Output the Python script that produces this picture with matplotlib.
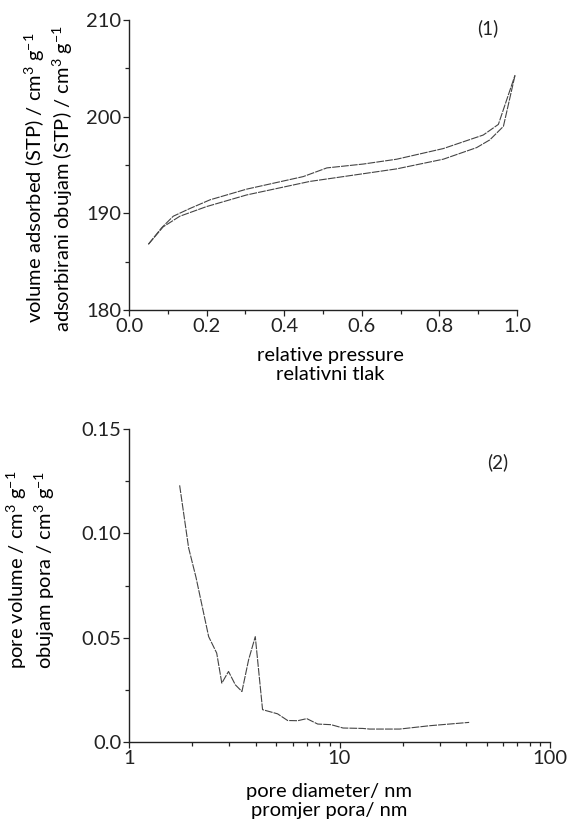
import numpy as np
import matplotlib
matplotlib.use('Agg')
import matplotlib.pyplot as plt
from matplotlib.ticker import MultipleLocator, LogLocator, FixedLocator, NullFormatter

plt.rcParams['font.family'] = ['Lato', 'DejaVu Sans']
plt.rcParams['mathtext.fontset'] = 'custom'
plt.rcParams['mathtext.rm'] = 'Lato'
plt.rcParams['mathtext.it'] = 'Lato:italic'
plt.rcParams['font.size'] = 14.5
plt.rcParams['text.color'] = '#222222'
plt.rcParams['xtick.color'] = '#222222'
plt.rcParams['ytick.color'] = '#222222'

# (1) 吸附／脫附等溫線
p_upper = [0.050, 0.084, 0.114, 0.157, 0.209, 0.303, 0.449, 0.510, 0.604, 0.690, 0.810, 0.913, 0.952, 0.995]
v_upper = [186.8, 188.5, 189.7, 190.5, 191.4, 192.5, 193.8, 194.7, 195.1, 195.6, 196.7, 198.1, 199.2, 204.3]
p_lower = [0.050, 0.088, 0.131, 0.200, 0.303, 0.466, 0.518, 0.690, 0.810, 0.896, 0.930, 0.965, 0.995]
v_lower = [186.8, 188.6, 189.7, 190.7, 191.9, 193.3, 193.6, 194.6, 195.6, 196.8, 197.6, 199.0, 204.3]

# (2) 孔徑分佈
d_pore = [1.74, 1.92, 2.08, 2.39, 2.61, 2.76, 2.97, 3.20, 3.44, 3.70, 3.98, 4.31, 5.08, 5.67,
          6.33, 6.99, 7.88, 9.12, 10.4, 12.9, 13.9, 19.3, 26.8, 41.3]
v_pore = [0.123, 0.093, 0.079, 0.0505, 0.0426, 0.0282, 0.0338, 0.0274, 0.0242, 0.0394, 0.0505,
          0.0155, 0.0135, 0.0103, 0.0102, 0.0112, 0.0086, 0.0083, 0.0067, 0.0065, 0.0062, 0.0062,
          0.0078, 0.0094]

line_kw = dict(color='#444444', linewidth=0.8, linestyle=(0, (7, 1.0)))

fig = plt.figure(figsize=(5.7, 8.22), dpi=100)
ax1 = fig.add_axes([129 / 570, 1 - 310 / 822, 388 / 570, 290 / 822])
ax2 = fig.add_axes([129 / 570, 1 - 742 / 822, 421 / 570, 313 / 822])

for ax in (ax1, ax2):
    for s in ('top', 'right'):
        ax.spines[s].set_visible(False)
    for s in ('left', 'bottom'):
        ax.spines[s].set_linewidth(1.0)
        ax.spines[s].set_color('#222222')
    ax.tick_params(which='major', direction='out', length=4, width=0.9, pad=1.5)
    ax.tick_params(which='minor', direction='out', length=3, width=0.9)

# 上圖
ax1.plot(p_upper, v_upper, **line_kw)
ax1.plot(p_lower, v_lower, **line_kw)
ax1.set_xlim(0, 1.0)
ax1.set_ylim(180, 210)
ax1.xaxis.set_minor_locator(MultipleLocator(0.1))
ax1.yaxis.set_major_locator(MultipleLocator(10))
ax1.yaxis.set_minor_locator(MultipleLocator(5))
ax1.set_xticks([0, 0.2, 0.4, 0.6, 0.8, 1.0])
ax1.set_xticklabels(['0.0', '0.2', '0.4', '0.6', '0.8', '1.0'])
ax1.set_xlabel('relative pressure\nrelativni tlak', linespacing=1.15)
ax1.xaxis.set_label_coords(0.518, -0.128)
ax1.set_ylabel('volume adsorbed (STP) / cm$^3$ g$^{-1}$\nadsorbirani obujam (STP) / cm$^3$ g$^{-1}$',
               linespacing=1.2)
ax1.yaxis.set_label_coords(-0.14, 0.455)
ax1.text(0.925, 0.972, '(1)', transform=ax1.transAxes, ha='center', va='center', fontsize=13.5)

# 下圖
ax2.plot(d_pore, v_pore, **line_kw)
ax2.set_xscale('log')
ax2.set_xlim(1, 100)
ax2.set_ylim(0, 0.15)
ax2.xaxis.set_major_locator(FixedLocator([1, 10, 100]))
ax2.xaxis.set_minor_locator(LogLocator(base=10, subs=np.arange(2, 10)))
ax2.xaxis.set_minor_formatter(NullFormatter())
ax2.set_xticklabels(['1', '10', '100'])
ax2.yaxis.set_minor_locator(MultipleLocator(0.025))
ax2.set_yticks([0.0, 0.05, 0.10, 0.15])
ax2.set_yticklabels(['0.0', '0.05', '0.10', '0.15'])
ax2.set_xlabel('pore diameter/ nm\npromjer pora/ nm', linespacing=1.15)
ax2.xaxis.set_label_coords(0.475, -0.13)
ax2.set_ylabel('pore volume / cm$^3$ g$^{-1}$\nobujam pora / cm$^3$ g$^{-1}$',
               linespacing=1.2)
ax2.yaxis.set_label_coords(-0.17, 0.55)
ax2.text(0.876, 0.894, '(2)', transform=ax2.transAxes, ha='center', va='center', fontsize=13.5)

fig.savefig('out.png', dpi=100)
